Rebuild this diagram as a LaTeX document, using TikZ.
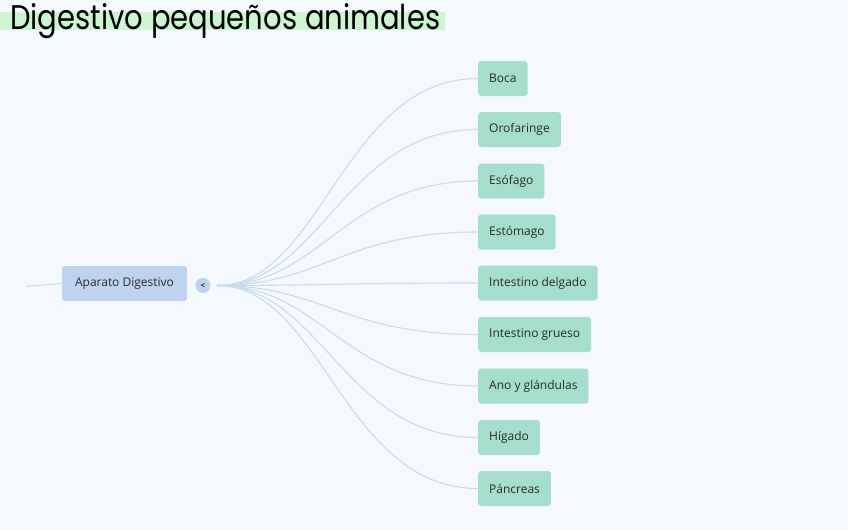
\documentclass[tikz,border=0pt]{standalone}
\usepackage{fontspec}
\setmainfont{Open Sans}
\newfontfamily\titlefont{Poppins}
\usepackage{graphicx}
\definecolor{bgc}{HTML}{F5F9FE}
\definecolor{leaf}{HTML}{A6DECE}
\definecolor{rootc}{HTML}{BED3EF}
\definecolor{linkc}{HTML}{C9DBEC}
\definecolor{hl}{HTML}{CDF5D2}
\definecolor{txt}{HTML}{2A2A2A}
\tikzset{
  leafbox/.style={fill=leaf, rounded corners=3pt, minimum height=35pt, inner xsep=11pt, anchor=west, font=\fontsize{12}{14}\selectfont, text=txt},
  rootbox/.style={fill=rootc, rounded corners=3pt, minimum height=35pt, minimum width=125pt, font=\fontsize{12}{14}\selectfont, text=txt},
  link/.style={draw=linkc, line width=1.1pt},
}
\begin{document}
\begin{tikzpicture}[x=1pt,y=-1pt]
\fill[bgc] (0,0) rectangle (848,530);
\useasboundingbox (0,0) rectangle (848,530);
% title
\fill[hl] (0,12) rectangle (445,30);
\node[anchor=west, inner sep=0pt] (title) at (10,21) {\resizebox{430pt}{26pt}{\titlefont Digestivo pequeños animales}};
% root
\node[rootbox] (root) at (124.5,283.5) {Aparato Digestivo};
\coordinate (lstart) at (26,286.5);
\draw[link] (lstart) -- (root.west);
\node[circle, fill=rootc, minimum size=15pt, inner sep=0pt, font=\fontsize{8}{9}\selectfont\bfseries, text=txt] (tog) at (203,285.5) {<};
\coordinate (hub) at (217,285.5);
% leaves
\node[leafbox] (n1) at (478,78.5) {Boca};
\node[leafbox] (n2) at (478,129.5) {Orofaringe};
\node[leafbox] (n3) at (478,181) {Esófago};
\node[leafbox] (n4) at (478,232) {Estómago};
\node[leafbox] (n5) at (478,283) {Intestino delgado};
\node[leafbox] (n6) at (478,334.5) {Intestino grueso};
\node[leafbox] (n7) at (478,386) {Ano y glándulas};
\node[leafbox] (n8) at (478,437.5) {Hígado};
\node[leafbox] (n9) at (478,488.5) {Páncreas};
\foreach \n in {n1,n2,n3,n4,n5,n6,n7,n8,n9}{
  \draw[link] (hub) .. controls +(105,0) and +(-135,0) .. (\n.west);
}
\end{tikzpicture}
\end{document}
